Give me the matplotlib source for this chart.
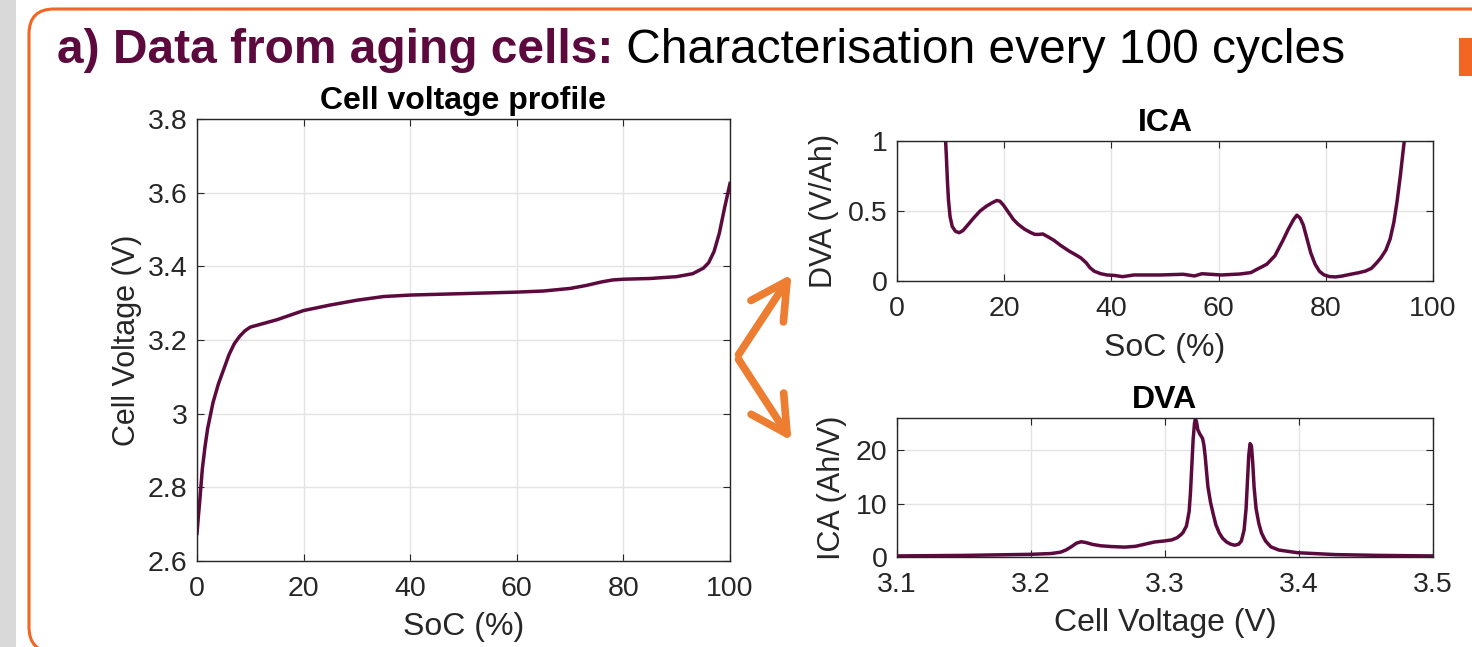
import matplotlib
matplotlib.use("Agg")
import matplotlib.pyplot as plt
from matplotlib.patches import Rectangle, FancyBboxPatch, FancyArrowPatch

plt.rcParams['font.family'] = ['Liberation Sans', 'DejaVu Sans']

# Cell voltage profile (SoC %, V)
soc_v = [0, 0.25, 0.5, 1, 1.5, 2, 3, 4, 5, 6, 7, 8, 9, 10, 12, 15, 20, 25, 30, 35,
         40, 50, 60, 65, 70, 73, 76, 78, 80, 85, 90, 93, 95, 96, 97, 98, 99, 100]
volt = [2.675, 2.72, 2.76, 2.85, 2.91, 2.96, 3.03, 3.08, 3.12, 3.16, 3.19, 3.21,
        3.225, 3.235, 3.243, 3.255, 3.28, 3.295, 3.308, 3.318, 3.322, 3.326, 3.33,
        3.333, 3.34, 3.348, 3.358, 3.363, 3.365, 3.367, 3.372, 3.38, 3.395, 3.41,
        3.44, 3.49, 3.56, 3.625]

# DVA curve vs SoC (V/Ah)
soc_d = [8.9, 9.0, 9.2, 9.4, 9.6, 9.9, 10.3, 10.9, 11.6, 12.3, 13.2, 14.3, 15.5,
         16.7, 17.8, 18.6, 19.2, 19.9, 20.8, 21.7, 22.6, 23.8, 25.0, 25.7, 26.5,
         27.2, 28.2, 29.3, 30.5, 32.1, 33.2, 34.3, 35.3, 36.0, 36.8, 38.0, 39.2,
         40.5, 42.1, 44.2, 49.1, 53.4, 55.5, 56.9, 60.5, 64.0, 66.0, 67.5, 69.0,
         70.5, 72.0, 73.0, 74.0, 74.6, 75.2, 75.8, 76.5, 77.2, 78.0, 78.8, 79.6,
         80.6, 81.8, 83.0, 84.6, 86.0, 87.4, 88.5, 89.5, 90.3, 91.2, 92.0, 92.7,
         93.3, 93.9, 94.4, 94.8, 95.0]
dva = [1.2, 1.05, 0.9, 0.72, 0.58, 0.46, 0.39, 0.355, 0.345, 0.36, 0.40, 0.45, 0.50,
       0.535, 0.56, 0.575, 0.57, 0.54, 0.49, 0.44, 0.405, 0.37, 0.345, 0.333, 0.333,
       0.336, 0.315, 0.29, 0.255, 0.214, 0.19, 0.165, 0.13, 0.095, 0.07, 0.052,
       0.043, 0.04, 0.031, 0.043, 0.043, 0.048, 0.036, 0.052, 0.043, 0.05, 0.06,
       0.09, 0.12, 0.18, 0.29, 0.37, 0.44, 0.47, 0.45, 0.40, 0.30, 0.20, 0.12,
       0.07, 0.045, 0.032, 0.029, 0.035, 0.048, 0.058, 0.071, 0.09, 0.13, 0.167,
       0.22, 0.30, 0.42, 0.57, 0.75, 0.92, 1.05, 1.12]

# ICA curve vs cell voltage (Ah/V)
v_i = [3.1, 3.15, 3.2, 3.215, 3.222, 3.226, 3.230, 3.234, 3.2375, 3.241, 3.246,
       3.252, 3.260, 3.270, 3.278, 3.285, 3.292, 3.2995, 3.305, 3.309, 3.312,
       3.3135, 3.316, 3.318, 3.319, 3.320, 3.321, 3.322, 3.3227, 3.3235, 3.3245,
       3.326, 3.328, 3.329, 3.330, 3.331, 3.332, 3.334, 3.336, 3.338, 3.3405,
       3.343, 3.346, 3.349, 3.352, 3.355, 3.357, 3.359, 3.3605, 3.3615, 3.3625,
       3.3635, 3.3645, 3.3655, 3.3665, 3.368, 3.370, 3.372, 3.375, 3.379, 3.385,
       3.399, 3.427, 3.46, 3.5]
ica = [0.2, 0.3, 0.5, 0.65, 0.9, 1.3, 1.9, 2.6, 2.85, 2.7, 2.35, 2.1, 1.95, 1.85,
       2.0, 2.4, 2.8, 3.0, 3.2, 3.6, 4.2, 4.6, 5.8, 8.5, 12, 17, 22, 25, 25.9, 25.3,
       23.8, 23.0, 22.2, 21, 18.8, 16, 13.2, 10.2, 8.0, 6.0, 4.5, 3.5, 2.8, 2.4,
       2.2, 2.4, 3.0, 5.0, 9, 14, 19, 21.2, 20.8, 17.5, 13, 9.0, 6.3, 4.5, 3.0,
       1.9, 1.3, 0.8, 0.45, 0.3, 0.2]

purple = '#5c0a3d'
orange = '#f26522'
arrow_col = '#ed7d31'
txt = '#262626'

W, H = 1472, 647
fig = plt.figure(figsize=(W / 100, H / 100), dpi=100)

# background decoration in pixel coordinates (y measured from the bottom)
bg = fig.add_axes([0, 0, 1, 1])
bg.set_xlim(0, W)
bg.set_ylim(0, H)
bg.axis('off')
bg.add_patch(Rectangle((0, 0), 16, H, color='#d9d9d9', lw=0))
bg.add_patch(FancyBboxPatch((29, H - 652), 1600, 643,
                            boxstyle="round,pad=0,rounding_size=25",
                            fc='none', ec=orange, lw=2.2))
bg.add_patch(Rectangle((1459, H - 76), 20, 38, color=orange, lw=0))

t1 = bg.text(57, H - 63, "a) Data from aging cells:", fontsize=34.5, fontweight='bold',
             color=purple, va='baseline', ha='left')
bg.annotate(" Characterisation every 100 cycles", xy=(1, 0), xycoords=t1,
            va='bottom', ha='left', fontsize=34.5, color='black')

for tip in [(793, H - 272), (793, H - 443)]:
    bg.add_patch(FancyArrowPatch((737, H - 357), tip,
                                 arrowstyle='->,head_length=1.3,head_width=0.7',
                                 mutation_scale=20, lw=5.5, color=arrow_col,
                                 capstyle='round', joinstyle='round'))


def style(ax):
    ax.grid(True, color='#e3e3e3', lw=1)
    ax.set_axisbelow(True)
    ax.tick_params(direction='in', top=True, right=True, labelsize=20.5,
                   colors=txt, length=5)
    ax.tick_params(axis='x', pad=11)
    ax.tick_params(axis='y', pad=7)
    for s in ax.spines.values():
        s.set_color(txt)
        s.set_linewidth(1)


# left: voltage profile
ax1 = fig.add_axes([197 / W, 1 - 561 / H, 533 / W, 442 / H])
ax1.plot(soc_v, volt, color=purple, lw=2.5)
ax1.set_xlim(0, 100)
ax1.set_ylim(2.6, 3.8)
ax1.set_xticks([0, 20, 40, 60, 80, 100])
ax1.set_yticks([2.6, 2.8, 3.0, 3.2, 3.4, 3.6, 3.8])
ax1.set_yticklabels(['2.6', '2.8', '3', '3.2', '3.4', '3.6', '3.8'])
ax1.set_xlabel("SoC (%)", fontsize=23, color=txt, labelpad=7)
ax1.set_ylabel("Cell Voltage (V)", fontsize=22, color=txt, labelpad=4)
ax1.set_title("Cell voltage profile", fontsize=23, fontweight='bold', pad=7)
style(ax1)

# top right: DVA vs SoC (titled ICA in source)
ax2 = fig.add_axes([897 / W, 1 - 281 / H, 536 / W, 140 / H])
ax2.plot(soc_d, dva, color=purple, lw=2.5)
ax2.set_xlim(0, 100)
ax2.set_ylim(0, 1)
ax2.set_xticks([0, 20, 40, 60, 80, 100])
ax2.set_yticks([0, 0.5, 1])
ax2.set_yticklabels(['0', '0.5', '1'])
ax2.set_xlabel("SoC (%)", fontsize=23, color=txt, labelpad=8)
ax2.set_ylabel("DVA (V/Ah)", fontsize=22, color=txt, labelpad=6)
ax2.set_title("ICA", fontsize=23, fontweight='bold', pad=7)
style(ax2)

# bottom right: ICA vs voltage (titled DVA in source)
ax3 = fig.add_axes([897 / W, 1 - 557 / H, 536 / W, 139 / H])
ax3.plot(v_i, ica, color=purple, lw=2.5)
ax3.set_xlim(3.1, 3.5)
ax3.set_ylim(0, 26)
ax3.set_xticks([3.1, 3.2, 3.3, 3.4, 3.5])
ax3.set_yticks([0, 10, 20])
ax3.set_xlabel("Cell Voltage (V)", fontsize=23, color=txt, labelpad=7)
ax3.set_ylabel("ICA (Ah/V)", fontsize=22, color=txt, labelpad=6)
ax3.set_title("DVA", fontsize=23, fontweight='bold', pad=7)
style(ax3)

fig.savefig("out.png", dpi=100)
